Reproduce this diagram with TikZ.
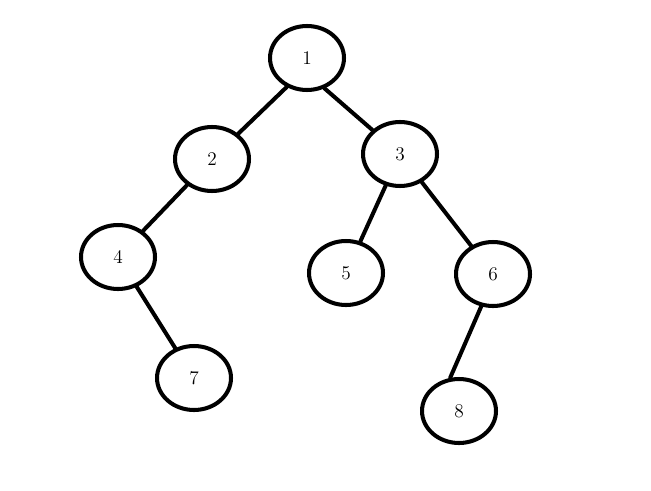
\documentclass[tikz,border=0pt]{standalone}
\usetikzlibrary{shapes.geometric}

\begin{document}
\begin{tikzpicture}[x=0.02cm,y=-0.02cm,line cap=round,line join=round,
  vert/.style={draw,ellipse,line width=2.3pt,minimum width=1.48cm,
    minimum height=1.28cm,inner sep=0pt,font=\fontsize{11}{13}\selectfont},
  edge/.style={line width=2.3pt}]

  \useasboundingbox (0,0) rectangle (651,490);

  %-------------------------
  % Vertices
  %-------------------------
  \node[vert] (n1) at (307,58)  {1};
  \node[vert] (n2) at (212,159) {2};
  \node[vert] (n3) at (400,154) {3};
  \node[vert] (n4) at (118,257) {4};
  \node[vert] (n5) at (346,273) {5};
  \node[vert] (n6) at (493,274) {6};
  \node[vert] (n7) at (194,378) {7};
  \node[vert] (n8) at (459,411) {8};

  %-------------------------
  % Edges
  %-------------------------
  \draw[edge] (n1.235) -- (n2);
  \draw[edge] (n1.300) -- (n3);
  \draw[edge] (n2) -- (n4);
  \draw[edge] (n3) -- (n5);
  \draw[edge] (n3) -- (n6);
  \draw[edge] (n4) -- (n7);
  \draw[edge] (n6.250) -- (n8.105);

\end{tikzpicture}
\end{document}
